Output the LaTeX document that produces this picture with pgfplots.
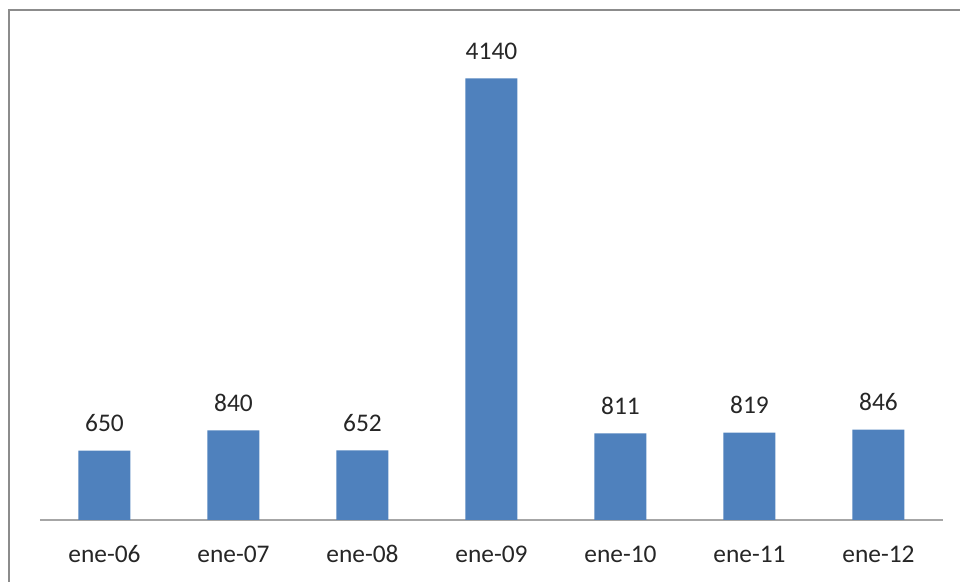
\documentclass[border=0pt]{standalone}
\usepackage{pgfplots}
\pgfplotsset{compat=1.18}
\usepackage{fontspec}
\setmainfont{Carlito}
\definecolor{barblue}{HTML}{4F81BD}
\definecolor{framegray}{HTML}{8C8C8C}
\definecolor{axisgray}{HTML}{A6A6A6}
\begin{document}
\begin{tikzpicture}
% page: 480pt x 291pt
\path[use as bounding box] (0,0) rectangle (480pt,291pt);
% outer chart frame (left and top edges visible)
\draw[framegray, line width=1.1pt] (4.6pt,-5pt) -- (4.6pt,286pt) -- (490pt,286pt);
\begin{axis}[
  at={(20pt,31pt)}, anchor=south west,
  scale only axis,
  width=451.5pt, height=240pt,
  ymin=0, ymax=4500,
  xmin=-0.5, xmax=6.5,
  axis x line=bottom, axis y line=none,
  x axis line style={-, axisgray, line width=0.9pt},
  xtick=data,
  xticklabels={ene-06,ene-07,ene-08,ene-09,ene-10,ene-11,ene-12},
  major tick length=0pt,
  xticklabel style={anchor=base, yshift=-21.5pt, inner sep=0pt, text=black!85,
    font=\fontsize{12.7}{15}\selectfont},
  /pgf/number format/assume math mode=true,
  /pgf/number format/1000 sep={},
  ybar, bar width=26pt,
  nodes near coords,
  every node near coord/.append style={anchor=base, yshift=9.5pt, inner sep=0pt,
    text=black!85, font=\fontsize{12.7}{15}\selectfont},
  clip=false,
]
\addplot[fill=barblue, draw=none, bar shift=0pt] coordinates {
  (0,650) (1,840) (2,652) (3,4140) (4,811) (5,819) (6,846)
};
\end{axis}
\end{tikzpicture}
\end{document}
